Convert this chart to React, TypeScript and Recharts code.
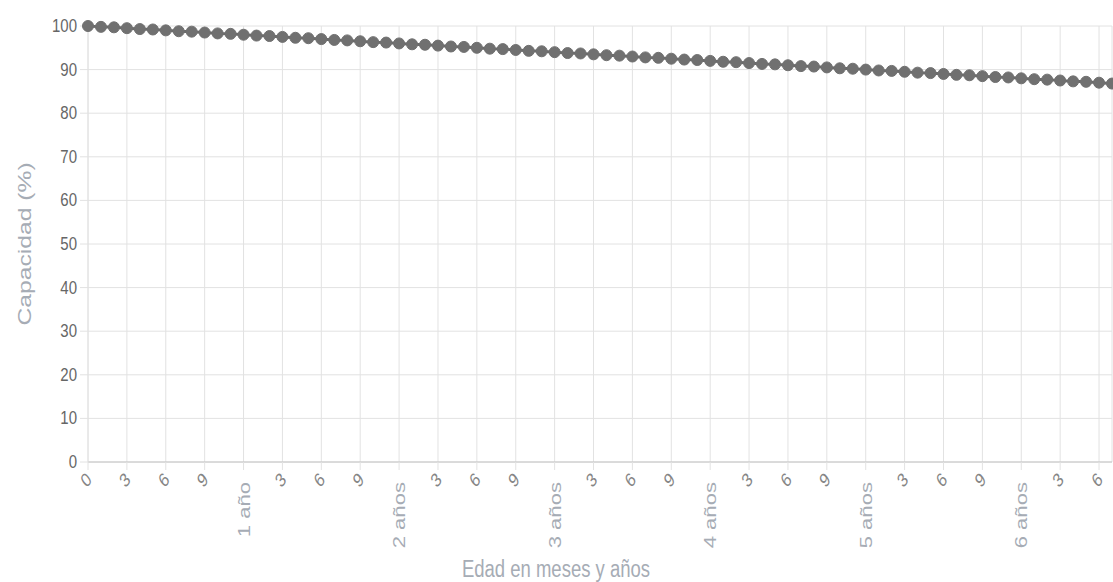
import { LineChart, Line, XAxis, YAxis, CartesianGrid } from 'recharts';

// capacidad (%) por mes, de 0 a 79 meses
const capacidad = [
  100.0, 99.8, 99.7, 99.5, 99.3, 99.2, 99.0, 98.8, 98.7, 98.5,
  98.3, 98.2, 98.0, 97.8, 97.7, 97.5, 97.3, 97.2, 97.0, 96.8,
  96.7, 96.5, 96.3, 96.2, 96.0, 95.8, 95.7, 95.5, 95.3, 95.2,
  95.0, 94.8, 94.7, 94.5, 94.3, 94.2, 94.0, 93.8, 93.7, 93.5,
  93.3, 93.2, 93.0, 92.8, 92.7, 92.5, 92.3, 92.2, 92.0, 91.8,
  91.7, 91.5, 91.3, 91.2, 91.0, 90.8, 90.7, 90.5, 90.3, 90.2,
  90.0, 89.8, 89.7, 89.5, 89.3, 89.2, 89.0, 88.8, 88.7, 88.5,
  88.3, 88.2, 88.0, 87.8, 87.7, 87.5, 87.3, 87.2, 87.0, 86.8,
];

// etiquetas cada 3 meses
const etiquetasMeses = [
  '0', '3', '6', '9', '1 año', '3', '6', '9', '2 años', '3', '6', '9',
  '3 años', '3', '6', '9', '4 años', '3', '6', '9', '5 años', '3', '6', '9',
  '6 años', '3', '6',
];

const ticksY = [0, 10, 20, 30, 40, 50, 60, 70, 80, 90, 100];

const ticksMeses = etiquetasMeses.map((_, i) => i * 3);
const datos = capacidad.map((v, i) => ({ mes: i, capacidad: v }));

const FONT = '"Liberation Sans", Arial, sans-serif';
const GRIS_TITULO = '#a6acb5';

const XTick = (props: any) => {
  const { x, y, payload } = props;
  const label = etiquetasMeses[Math.round(payload.value / 3)] ?? '';
  if (label.includes('año')) {
    return (
      <text
        transform={`translate(${x} ${y + 10}) scale(1 1.3) rotate(-90)`}
        textAnchor="end"
        dominantBaseline="central"
        fill={GRIS_TITULO}
        fontSize={17}
        fontFamily={FONT}
      >
        {label}
      </text>
    );
  }
  return (
    <text
      transform={`translate(${x - 2} ${y + 8}) scale(1 1.3) rotate(-45)`}
      textAnchor="middle"
      dominantBaseline="central"
      fill="#858585"
      fontSize={15}
      fontFamily={FONT}
    >
      {label}
    </text>
  );
};

const YTick = (props: any) => {
  const { x, y, payload } = props;
  return (
    <text
      transform={`translate(${x} ${y}) scale(1 1.2)`}
      textAnchor="end"
      dominantBaseline="central"
      fill="#666"
      fontSize={15}
      fontFamily={FONT}
    >
      {payload.value}
    </text>
  );
};

export default function App() {
  return (
    <div style={{ position: 'absolute', left: 0, top: 0, background: '#fff' }}>
      <LineChart width={1113} height={582} data={datos} margin={{ top: 26, right: 1, bottom: 0, left: 0 }}>
        <CartesianGrid stroke="#e2e2e2" strokeWidth={1} />
        <XAxis
          dataKey="mes"
          type="number"
          domain={[0, 79]}
          ticks={ticksMeses}
          interval={0}
          height={120}
          tickSize={8}
          tickMargin={2}
          axisLine={{ stroke: '#c4c4c4' }}
          tickLine={{ stroke: '#e2e2e2' }}
          tick={<XTick />}
          label={{
            content: () => (
              <text
                transform="translate(556 577) scale(1 1.3)"
                textAnchor="middle"
                fill={GRIS_TITULO}
                fontSize={18.5}
                fontFamily={FONT}
              >
                Edad en meses y años
              </text>
            ),
          }}
        />
        <YAxis
          type="number"
          domain={[0, 100]}
          ticks={ticksY}
          interval={0}
          width={88}
          tickSize={8}
          tickMargin={3}
          axisLine={{ stroke: '#e2e2e2' }}
          tickLine={{ stroke: '#e2e2e2' }}
          tick={<YTick />}
          label={{
            content: () => (
              <text
                transform="translate(25 244) scale(1 1.3) rotate(-90)"
                textAnchor="middle"
                dominantBaseline="central"
                fill={GRIS_TITULO}
                fontSize={19}
                fontFamily={FONT}
              >
                Capacidad (%)
              </text>
            ),
          }}
        />
        <Line
          type="linear"
          dataKey="capacidad"
          stroke="#6a6a6a"
          strokeWidth={3}
          dot={{ r: 5.5, fill: '#707070', stroke: '#707070', strokeWidth: 1 }}
          isAnimationActive={false}
        />
      </LineChart>
    </div>
  );
}
